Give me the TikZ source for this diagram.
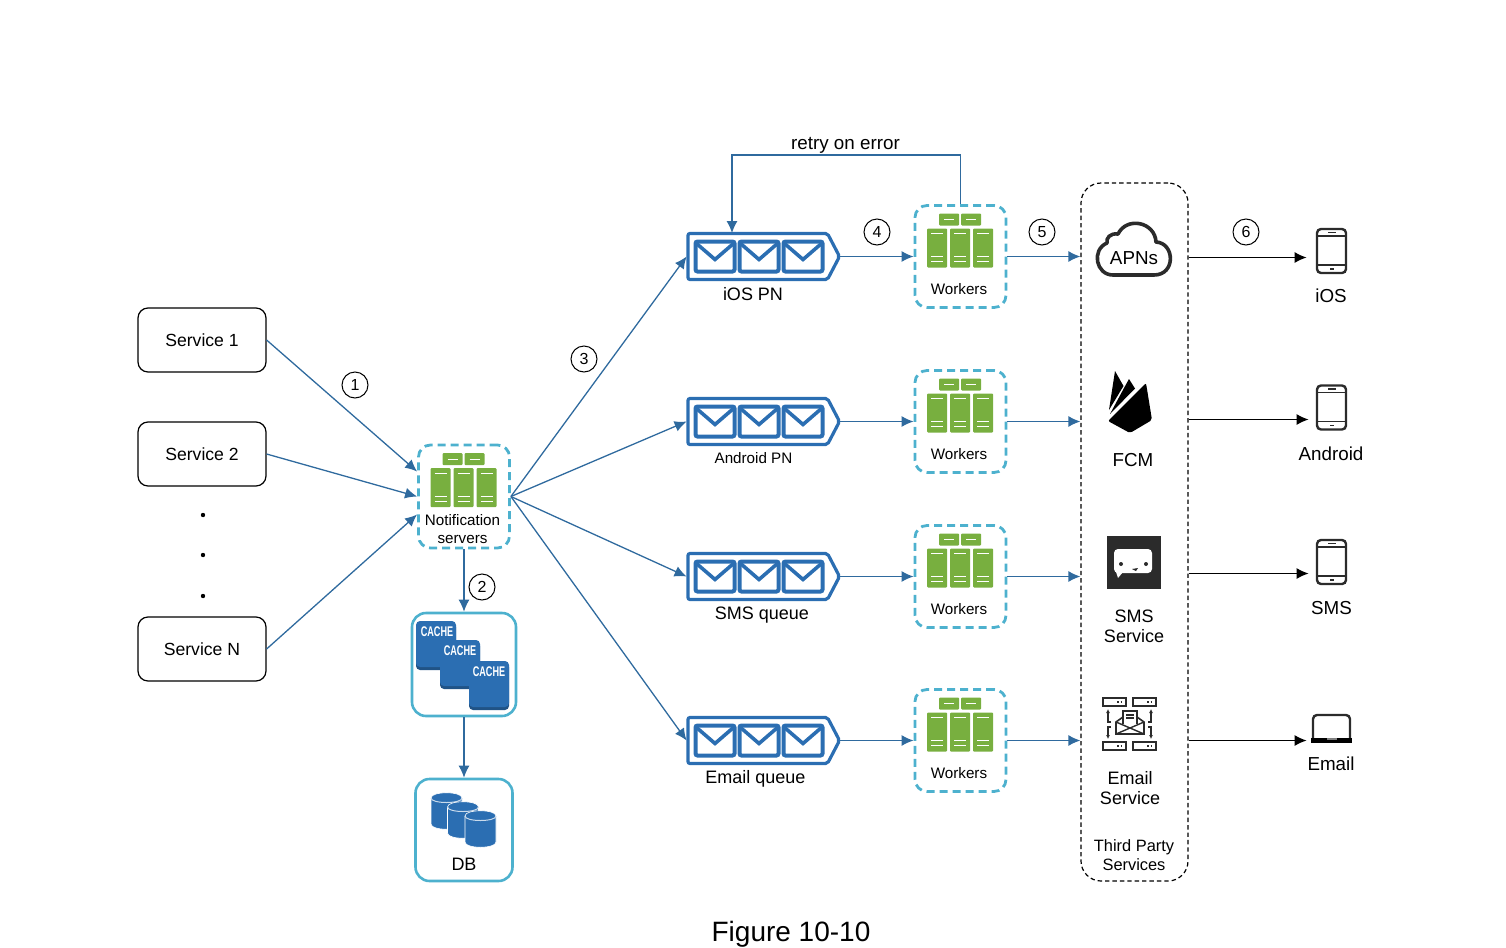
\documentclass[tikz,border=0pt]{standalone}
\usepackage{fontspec}
\setmainfont{Liberation Sans}
\usetikzlibrary{arrows.meta}
\definecolor{qblue}{HTML}{2B6EB2}
\definecolor{flowblue}{HTML}{2F6A9E}
\definecolor{boxcyan}{HTML}{4DB1CE}
\definecolor{rackgreen}{HTML}{78AF3F}
\definecolor{iconblack}{HTML}{2B2B2B}
\begin{document}
\begin{tikzpicture}[
  x=0.5pt, y=-0.5pt,
  flow/.style={draw=flowblue, line width=0.65pt, -{Latex[length=6pt,width=5.5pt]}},
  push/.style={draw=black, line width=0.6pt, -{Latex[length=6pt,width=5.5pt]}},
  svcbox/.style={draw=black, line width=0.6pt, rounded corners=5pt,
    minimum width=64pt, minimum height=32pt, inner sep=0pt,
    font=\fontsize{8.8}{10}\selectfont},
  dashbox/.style={draw=boxcyan, line width=1.4pt, dash pattern=on 4pt off 2.5pt,
    rounded corners=6pt, minimum width=45.5pt, minimum height=51pt, inner sep=0pt},
  solidbox/.style={draw=boxcyan, line width=1.3pt, rounded corners=7pt, inner sep=0pt},
  queuebox/.style={minimum width=76.5pt, minimum height=23pt, inner sep=0pt},
  devbox/.style={minimum width=25pt, minimum height=1pt, inner sep=0pt},
  numcircle/.style={draw=black, circle, line width=0.5pt, minimum size=13pt, inner sep=0pt,
    font=\fontsize{8}{9}\selectfont},
  smalltxt/.style={inner sep=0pt, align=center, font=\fontsize{7.6}{9}\selectfont},
  midtxt/.style={inner sep=0pt, align=center, font=\fontsize{9}{10}\selectfont},
  bigtxt/.style={inner sep=0pt, align=center, font=\fontsize{9.4}{10}\selectfont},
  pics/serverrack/.style={code={
    \foreach \tx in {-21,1}{
      \fill[rackgreen, rounded corners=0.5pt] (\tx,0) rectangle (\tx+20,12);
      \draw[white, line width=0.5pt] (\tx+5,6) -- (\tx+15,6);
    }
    \foreach \rx in {-33,-10,13}{
      \fill[rackgreen, rounded corners=0.5pt] (\rx,15) rectangle (\rx+20,54);
      \draw[white, line width=0.5pt] (\rx+4,20) -- (\rx+16,20)
        (\rx+4,43) -- (\rx+16,43) (\rx+4,48) -- (\rx+16,48);
    }
  }},
  pics/mailqueue/.style={code={
    \draw[qblue, line width=1.6pt, rounded corners=1pt]
      (-75.5,-23) -- (64,-23) -- (76,0) -- (64,23) -- (-75.5,23) -- cycle;
    \foreach \ex in {-68,-24,20}{
      \draw[qblue, line width=2pt, rounded corners=1pt] (\ex,-15) rectangle (\ex+39,15);
      \draw[qblue, line width=1.8pt] (\ex+1,-13) -- (\ex+19.5,3) -- (\ex+38,-13);
    }
  }},
  pics/dbcyl/.style={code={
    \filldraw[fill=qblue, draw=white, line width=0.3pt]
      (-15.5,5) -- (-15.5,31) .. controls (-15.5,38) and (15.5,38) .. (15.5,31) -- (15.5,5)
      .. controls (15.5,-2) and (-15.5,-2) .. (-15.5,5) -- cycle;
    \draw[white!75!qblue, line width=0.5pt]
      (-15.5,5) .. controls (-15.5,11) and (15.5,11) .. (15.5,5);
  }},
  pics/tablet/.style={code={
    \draw[iconblack, line width=1.2pt, rounded corners=2pt] (-15,-22) rectangle (14,22);
    \draw[iconblack, line width=0.8pt] (-15,-15) -- (14,-15) (-15,14) -- (14,14);
    \draw[iconblack, line width=0.7pt] (-4,-18.5) -- (4,-18.5) (-2,18) -- (2,18);
  }}
]

% ================= BACKGROUND =================
\useasboundingbox (0,0) rectangle (1506,948);

% ================= SERVICES =================
\node[svcbox] (svc1) at (202,340) {Service 1};
\node[svcbox] (svc2) at (202,454) {Service 2};
\node[svcbox] (svcn) at (202,649) {Service N};

\foreach \dy in {515,555,596}
{
  \fill (203,\dy) circle (1.1pt);
}

% ================= NOTIFICATION SERVERS =================
\node[dashbox, minimum height=51.5pt] (notif) at (464,496.5) {};
\pic at (463.5,453) {serverrack};
\node[smalltxt] (notiftxt) at (462.5,529) {Notification\\servers};

\draw[flow] (svc1.east) -- ([yshift=12.5pt]notif.west);
\draw[flow] (svc2.east) -- (notif.west);
\draw[flow] (svcn.east) -- ([yshift=-9pt]notif.west);

% ================= CACHE =================
\node[solidbox, minimum width=52pt, minimum height=51.5pt] (cache) at (464,664.5) {};

\foreach \bx/\by/\tx/\ty in {
  416/621/437/632,
  440/640/460/651,
  469/661/489/672}
{
  \fill[qblue!75!black, rounded corners=2pt] (\bx,\by+2) rectangle (\bx+40,\by+49);
  \fill[qblue, rounded corners=2pt] (\bx,\by) rectangle (\bx+40,\by+46);
}
\node[white, inner sep=0pt, xscale=0.65, font=\fontsize{7}{8}\selectfont\bfseries] (cache1) at (437,632) {CACHE};
\node[white, inner sep=0pt, xscale=0.65, font=\fontsize{7}{8}\selectfont\bfseries] (cache2) at (460,651) {CACHE};
\node[white, inner sep=0pt, xscale=0.65, font=\fontsize{7}{8}\selectfont\bfseries] (cache3) at (489,672) {CACHE};

% ================= DB =================
\node[solidbox, minimum width=48.5pt, minimum height=51pt] (db) at (464,830) {};
\pic at (446.5,793) {dbcyl};
\pic at (463,802) {dbcyl};
\pic at (480.5,811) {dbcyl};
\node[midtxt] (dbtxt) at (464,864) {DB};

\draw[flow] (notif.south) -- (cache.north);
\draw[flow] (cache.south) -- (db.north);

% ================= THIRD PARTY =================
\node[draw=black, dash pattern=on 2.2pt off 1.5pt, line width=0.6pt, rounded corners=10pt, inner sep=0pt,
  minimum width=53.5pt, minimum height=349pt] (third) at (1134.5,532) {};

% APNs
\draw[iconblack, line width=1.8pt, line join=round]
  (1113,275) -- (1154,275)
  .. controls (1176,275) and (1175,243) .. (1156,242)
  .. controls (1155,222) and (1127,216) .. (1118,234)
  .. controls (1110,233) and (1106,238) .. (1107,243)
  .. controls (1091,250) and (1096,275) .. (1113,275) -- cycle;
\node[bigtxt] (apns) at (1134,258) {APNs};

% FCM
\fill[black] (1115,371) -- (1123.5,386) -- (1109,410) -- cycle;
\fill[black] (1129,379) -- (1135,388.5) -- (1110,414) -- (1124,388) -- cycle;
\fill[black, rounded corners=1pt]
  (1146,383) -- (1152,420) -- (1130,433) -- (1108,421) -- cycle;
\node[bigtxt] (fcm) at (1133,460) {FCM};

% SMS
\fill[iconblack] (1107,536) rectangle (1161,589);
\fill[white, rounded corners=2pt] (1114,549) rectangle (1152,573);
\fill[white] (1116,572) -- (1118,578) -- (1123,572) -- cycle;
\fill[iconblack] (1121,564) circle (1pt) (1146,564) circle (1pt);
\fill[iconblack] (1132,569) -- (1138,568) -- (1136,571) -- cycle;
\node[midtxt] (sms) at (1134,626) {SMS\\Service};

% Email
\foreach \ex/\ey in {1103/698, 1133/698, 1103/742, 1133/742}
{
  \draw[iconblack, line width=0.7pt] (\ex,\ey) rectangle (\ex+23,\ey+8);
  \draw[iconblack, line width=0.7pt] (\ex+14,\ey+4) -- (\ex+15.5,\ey+4) (\ex+17.5,\ey+4) -- (\ex+19,\ey+4);
}
\draw[iconblack, line width=0.8pt] (1116,734) -- (1116,722) -- (1130,712) -- (1144,722) -- (1144,734) -- cycle;
\draw[iconblack, line width=0.7pt] (1116,722) -- (1144,734) (1144,722) -- (1116,734);
\fill[white] (1123,711) rectangle (1137,722);
\draw[iconblack, line width=0.7pt] (1123,724) -- (1123,711) -- (1137,711) -- (1137,724);
\draw[iconblack, line width=0.7pt] (1126,715) -- (1134,715) (1126,718) -- (1134,718);
\draw[iconblack, line width=0.6pt, -{Latex[length=2pt,width=2pt]}] (1111,722) -- (1108,722) -- (1108,709);
\draw[iconblack, line width=0.6pt, -{Latex[length=2pt,width=2pt]}] (1111,727) -- (1108,727) -- (1108,739);
\draw[iconblack, line width=0.6pt, -{Latex[length=2pt,width=2pt]}] (1148,722) -- (1151,722) -- (1151,709);
\draw[iconblack, line width=0.6pt, -{Latex[length=2pt,width=2pt]}] (1148,727) -- (1151,727) -- (1151,739);
\node[midtxt] (email) at (1130,788) {Email\\Service};

\node[inner sep=0pt, align=center, font=\fontsize{8.2}{9.6}\selectfont] (thirdtxt) at (1134,855) {Third Party\\Services};

% ================= QUEUES AND WORKERS =================
\foreach \i/\yy in {1/256.5, 2/421.5, 3/576.5, 4/740.5}
{
  \node[queuebox] (q\i) at (763.5,\yy) {};
  \pic at (q\i) {mailqueue};
  \node[dashbox] (w\i) at (960.5,\yy) {};
  \pic at (960,\yy-43) {serverrack};
  \node[smalltxt] (wtxt\i) at (959,\yy+32.5) {Workers};

  \draw[flow] (notif.east) -- (q\i.west);
  \draw[flow] (q\i.east) -- (w\i.west);
  \draw[flow] (w\i.east) -- (w\i.east -| third.west);
}

\node[midtxt] (q1txt) at (753,294) {iOS PN};
\node[smalltxt] (q2txt) at (753.5,458) {Android PN};
\node[midtxt] (q3txt) at (762,615) {SMS queue};
\node[midtxt] (q4txt) at (755.5,779) {Email queue};

% retry
\coordinate (retrytop) at (845,155);
\draw[flow] (w1.north) |- (retrytop) -| ([xshift=-15.75pt]q1.north);
\node[inner sep=0pt, font=\fontsize{9.4}{10}\selectfont] (retrytxt) at (845.5,145) {retry on error};

% ================= DEVICES =================
\node[devbox] (ios) at (1332,257.5) {};
\node[devbox] (android) at (1334,419.5) {};
\node[devbox] (smsdev) at (1334,573.5) {};
\node[devbox] (laptop) at (1332,740.5) {};

\pic at (1332,251) {tablet};
\pic at (1332,407.5) {tablet};
\pic at (1332,562) {tablet};

\draw[iconblack, line width=1.2pt, rounded corners=2pt] (1313,738) -- (1313,715) -- (1350,715) -- (1350,738);
\fill[black] (1311,738) rectangle (1352,742.5);
\fill[gray] (1327,738) rectangle (1337,740);

\foreach \dv in {ios,android,smsdev,laptop}
{
  \draw[push] (\dv.west -| third.east) -- (\dv.west);
}

\node[bigtxt] (iostxt) at (1331,296) {iOS};
\node[bigtxt] (androidtxt) at (1331,454) {Android};
\node[bigtxt] (smstxt) at (1331.5,608) {SMS};
\node[bigtxt] (emailtxt) at (1331,763.5) {Email};

% ================= NUMBERS =================
\foreach \n/\nx/\ny in {1/355/385, 2/482/587, 3/584/359, 4/877/232, 5/1042/232, 6/1246/232}
{
  \node[numcircle] (num\n) at (\nx,\ny) {\n};
}

% ================= CAPTION =================
\node[inner sep=0pt, font=\fontsize{14}{16}\selectfont] (caption) at (791,934.5) {Figure 10-10};

\end{tikzpicture}
\end{document}
